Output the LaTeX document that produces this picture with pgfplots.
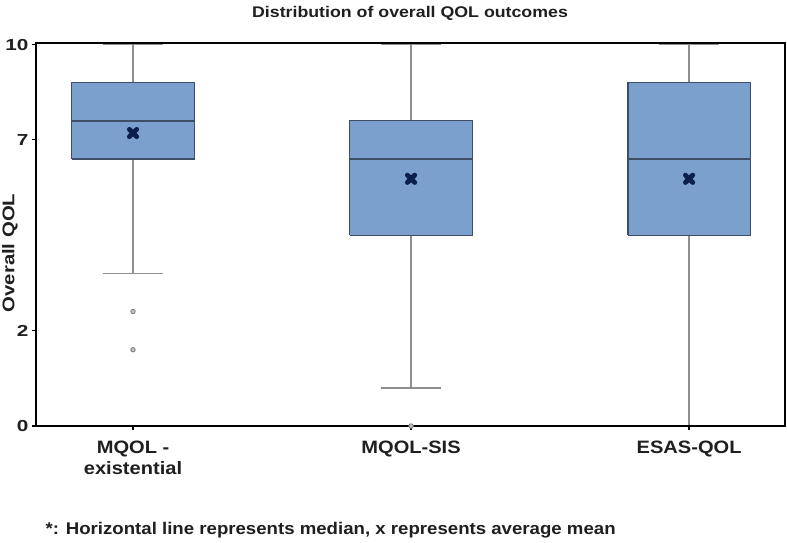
\documentclass[border=0pt]{standalone}
\usepackage{fontspec}
\setmainfont{Liberation Sans}
\usepackage{graphicx}
\usepackage{pgfplots}
\pgfplotsset{compat=1.18}
\definecolor{boxfill}{HTML}{7BA0CE}
\definecolor{boxedge}{HTML}{3E4E66}
\definecolor{whisk}{HTML}{8E8E8E}
\definecolor{meanc}{HTML}{0A1F4C}
\pgfplotsset{
  wh/.style={draw=whisk, line width=1.8bp, mark=none},
  bx/.style={draw=boxedge, fill=boxfill, line width=1.2bp, mark=none},
  md/.style={draw=boxedge, line width=1.8bp, mark=none},
}
\newcommand{\xs}[2]{\scalebox{#1}[1]{#2}}
\begin{document}
\begin{tikzpicture}
\useasboundingbox (0bp,0bp) rectangle (787bp,543bp);
\begin{axis}[
  at={(36bp,117bp)}, anchor=south west,
  width=749bp, height=383bp, scale only axis,
  xmin=0.651, xmax=3.345, ymin=0, ymax=10.04,
  clip=false, axis on top,
  axis line style={line width=1.6bp, black},
  tick pos=left, tick align=outside,
  major tick length=4bp,
  tick style={black, line width=1.2bp},
  xtick={1,2,3},
  xticklabels={{\xs{1.12}{MQOL -}\\\xs{1.12}{existential}},\xs{1.12}{MQOL-SIS},\xs{1.12}{ESAS-QOL}},
  xticklabel style={align=center, font=\bfseries\fontsize{18}{22}\selectfont, text=black!88, yshift=-7bp},
  ytick={0,2.5,7.5,10},
  yticklabels={\xs{1.3}{0},\xs{1.3}{2},\xs{1.3}{7},\xs{1.3}{10}},
  yticklabel style={font=\bfseries\fontsize{16}{18}\selectfont, text=black!88},
]
% MQOL - existential: whiskers 4..10, Q1 7, median 8, Q3 9
\addplot[wh] coordinates {(1,9) (1,10)};
\addplot[wh] coordinates {(1,4) (1,7)};
\addplot[wh] coordinates {(0.892,10) (1.108,10)};
\addplot[wh] coordinates {(0.892,4) (1.108,4)};
\addplot[bx] coordinates {(0.78,7) (1.22,7) (1.22,9) (0.78,9) (0.78,7)};
\addplot[md] coordinates {(0.78,8) (1.22,8)};
% MQOL-SIS: whiskers 1..10, Q1 5, median 7, Q3 8
\addplot[wh] coordinates {(2,8) (2,10)};
\addplot[wh] coordinates {(2,1) (2,5)};
\addplot[wh] coordinates {(1.892,10) (2.108,10)};
\addplot[wh] coordinates {(1.892,1) (2.108,1)};
\addplot[bx] coordinates {(1.78,5) (2.22,5) (2.22,8) (1.78,8) (1.78,5)};
\addplot[md] coordinates {(1.78,7) (2.22,7)};
% ESAS-QOL: whiskers 0..10, Q1 5, median 7, Q3 9
\addplot[wh] coordinates {(3,9) (3,10)};
\addplot[wh] coordinates {(3,0) (3,5)};
\addplot[wh] coordinates {(2.892,10) (3.108,10)};
\addplot[wh] coordinates {(2.892,0) (3.108,0)};
\addplot[bx] coordinates {(2.78,5) (3.22,5) (3.22,9) (2.78,9) (2.78,5)};
\addplot[md] coordinates {(2.78,7) (3.22,7)};
% outliers
\addplot[only marks, mark=*, mark size=2.2bp, mark options={fill=gray!45, draw=gray, line width=0.9bp}] coordinates {(1,3) (1,2) (2,0)};
% means
\addplot[only marks, mark=x, mark size=5.2bp, mark options={line width=4.8bp, draw=meanc, line cap=round}] coordinates {(1,7.68) (2,6.48) (3,6.48)};
\end{axis}
\node[font=\bfseries\fontsize{15.5}{17}\selectfont, text=black!88] at (410bp,530bp) {\xs{1.15}{Distribution of overall QOL outcomes}};
\node[font=\bfseries\fontsize{17}{19}\selectfont, text=black!88, rotate=90] at (10bp,290bp) {\xs{1.2}{Overall QOL}};
\node[font=\bfseries\fontsize{17}{19}\selectfont, text=black!88, anchor=west] at (42bp,13bp) {\xs{1.1}{*: Horizontal line represents median, x represents average mean}};
\end{tikzpicture}
\end{document}
